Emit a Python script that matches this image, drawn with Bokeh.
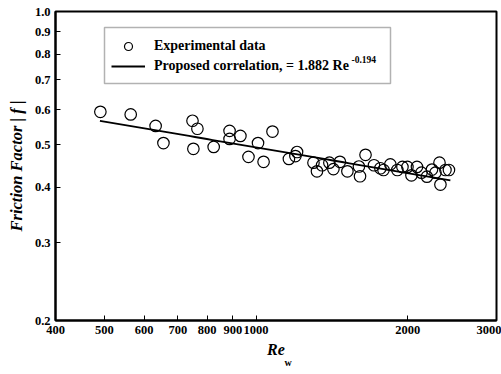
from bokeh.plotting import figure
from bokeh.models import FixedTicker, Legend, LegendItem, Label, BoxAnnotation, Title
from bokeh.embed import file_html
from bokeh.resources import INLINE
import numpy as np

# ---- data ----
re_w = [491, 564, 632, 655, 748, 765, 751, 824, 886, 886, 931, 966, 1009, 1035,
        1078, 1162, 1206, 1197, 1300, 1321, 1352, 1398, 1424, 1467, 1518, 1600,
        1608, 1649, 1714, 1765, 1790, 1847, 1907, 1952, 1997, 2034, 2086, 2129,
        2183, 2234, 2270, 2312, 2322, 2376, 2414]
friction = [0.593, 0.585, 0.551, 0.504, 0.566, 0.543, 0.489, 0.494, 0.537, 0.515,
            0.523, 0.469, 0.504, 0.457, 0.535, 0.464, 0.481, 0.471, 0.455, 0.435,
            0.449, 0.455, 0.440, 0.457, 0.435, 0.446, 0.424, 0.474, 0.449, 0.442,
            0.438, 0.451, 0.438, 0.445, 0.445, 0.426, 0.445, 0.432, 0.423, 0.439,
            0.432, 0.455, 0.406, 0.438, 0.438]
corr_coef = 1.882
corr_exp = -0.194
corr_range = [490, 2430]

x_ticks = [400, 500, 600, 700, 800, 900, 1000, 2000, 3000]
x_tick_labels = ["400", "500", "600", "700", "800", "900", "1000", "2000", "3000"]
y_ticks = [0.2, 0.3, 0.4, 0.5, 0.6, 0.7, 0.8, 0.9, 1.0]
y_tick_labels = ["0.2", "0.3", "0.4", "0.5", "0.6", "0.7", "0.8", "0.9", "1.0"]

FONT = "Liberation Serif"

p = figure(width=501, height=374, x_axis_type="log", y_axis_type="log",
           x_range=(400, 3000), y_range=(0.2, 1.0),
           output_backend="svg", toolbar_location=None,
           min_border_left=55, min_border_right=5, min_border_top=11, min_border_bottom=54)
p.background_fill_color = "white"
p.border_fill_color = "white"
p.grid.visible = False
p.outline_line_color = "black"
p.outline_line_width = 2

# correlation line
xc = np.logspace(np.log10(corr_range[0]), np.log10(corr_range[1]), 60)
yc = corr_coef * xc ** corr_exp
line_r = p.line(xc, yc, line_color="black", line_width=1.8)
pts_r = p.scatter(re_w, friction, size=11.5, marker="circle", fill_color=None,
                  line_color="black", line_width=1.2)

for ax in (p.xaxis[0], p.yaxis[0]):
    ax.axis_line_color = "black"
    ax.axis_line_width = 2
    ax.major_tick_in = 5
    ax.major_tick_out = 0
    ax.minor_tick_in = 0
    ax.minor_tick_out = 0
    ax.major_tick_line_color = "black"
    ax.major_tick_line_width = 1
    ax.major_label_text_font = FONT
    ax.major_label_text_font_style = "bold"
    ax.major_label_text_font_size = "12.5px"
    ax.major_label_text_color = "black"
    ax.major_label_standoff = 5

p.xaxis.ticker = FixedTicker(ticks=x_ticks, minor_ticks=[])
p.yaxis.ticker = FixedTicker(ticks=y_ticks, minor_ticks=[])
p.xaxis.major_label_overrides = {t: l for t, l in zip(x_ticks, x_tick_labels)}
p.yaxis.major_label_overrides = {t: l for t, l in zip(y_ticks, y_tick_labels)}

p.yaxis.axis_label = "Friction Factor | f |"
p.yaxis.axis_label_text_font = FONT
p.yaxis.axis_label_text_font_style = "bold italic"
p.yaxis.axis_label_text_font_size = "16.5px"
p.yaxis.axis_label_standoff = 6
p.yaxis.axis_label_text_color = "black"

# x-axis label "Re" with subscript "w" (a title below, shifted right)
p.xaxis.axis_label = "Re"
p.xaxis.axis_label_text_font = FONT
p.xaxis.axis_label_text_font_style = "bold italic"
p.xaxis.axis_label_text_font_size = "16px"
p.xaxis.axis_label_standoff = 4
p.xaxis.axis_label_text_color = "black"
p.add_layout(Title(text="w", align="left", offset=229, standoff=-12,
                   text_font=FONT, text_font_style="bold", text_font_size="10px",
                   text_color="black"), "below")

legend = Legend(items=[LegendItem(label="Experimental data", renderers=[pts_r]),
                       LegendItem(label="Proposed correlation, = 1.882 Re", renderers=[line_r])],
                location=(50, 238))
legend.label_text_font = FONT
legend.label_text_font_style = "bold"
legend.label_text_font_size = "14px"
legend.label_text_color = "black"
legend.glyph_width = 34
legend.glyph_height = 20
legend.label_height = 20
legend.spacing = 0
legend.padding = 6
legend.margin = 0
legend.label_standoff = 9
legend.border_line_alpha = 0
legend.background_fill_alpha = 0
p.add_layout(legend)

p.add_layout(BoxAnnotation(left=49, right=335, bottom=237, top=293,
                           left_units="screen", right_units="screen",
                           bottom_units="screen", top_units="screen",
                           fill_alpha=0, line_color="black", line_width=1.5))

p.add_layout(Label(x=296, y=258, x_units="screen", y_units="screen", text="-0.194",
                   text_font=FONT, text_font_style="bold", text_font_size="9.5px",
                   text_color="black"))

open("out.html", "w").write(file_html(p, INLINE))
